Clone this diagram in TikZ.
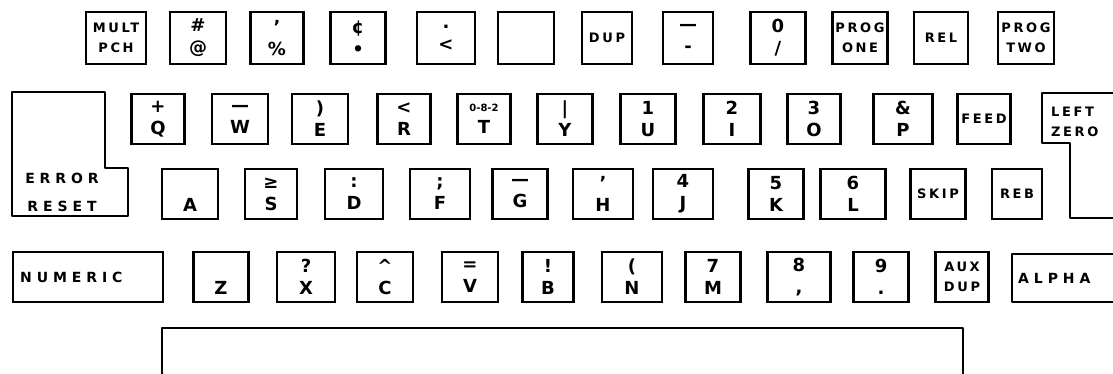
\documentclass[tikz,border=0pt]{standalone}
\usepackage{fontspec}
\setmainfont{DejaVu Sans}
\newfontfamily\handfont[LetterSpace=20]{DejaVu Sans}
\newfontfamily\handwide[LetterSpace=35]{DejaVu Sans}
\usetikzlibrary{positioning}

\tikzset{
	key/.style={draw, line width=2.4pt, inner sep=0pt, align=center, minimum height=50,
		font=\bfseries\fontsize{18}{22}\selectfont},
	word/.style={key, font=\handfont\bfseries\fontsize{13}{20}\selectfont},
	wide/.style={font=\handwide\bfseries\fontsize{14}{16}\selectfont, inner sep=0pt},
	outline/.style={line width=2.4pt, line join=round}
}

\begin{document}
\begin{tikzpicture}[x=1pt, y=-1pt]
		\useasboundingbox (0,0) rectangle (1113,374);
		% top row
		\node[word, minimum width=60, minimum height=52] (multpch) at (116,38) {MULT\\PCH};
		\node[key, minimum width=56, minimum height=52] (atsign) at (198,38) {\#\\@};
		\node[key, minimum width=53, minimum height=52] (percent) at (277,38) {'\\\%};
		\node[key, minimum width=55, minimum height=52] (cent) at (358,38) {¢\\•};
		\node[key, minimum width=58, minimum height=52] (less) at (446,38) {.\\<};
		\node[key, minimum width=56, minimum height=52] (blank) at (526,38) {};
		\node[word, minimum width=50, minimum height=52] (dup) at (607,38) {DUP};
		\node[key, minimum width=50, minimum height=52] (minus) at (688,38) {—\\-};
		\node[key, minimum width=55, minimum height=52] (slash) at (778,38) {0\\/};
		\node[word, minimum width=55, minimum height=52] (progone) at (860,38) {PROG\\ONE};
		\node[word, minimum width=54, minimum height=52] (rel) at (941,38) {REL};
		\node[word, minimum width=56, minimum height=52] (progtwo) at (1026,38) {PROG\\TWO};
		%
		% second row
		\node[key, minimum width=53] (q) at (158,119) {+\\Q};
		\node[key, minimum width=56] (w) at (240,119) {—\\W};
		\node[key, minimum width=56] (e) at (320,119) {)\\E};
		\node[key, minimum width=53] (r) at (404,119) {<\\R};
		\node[key, minimum width=53] (t) at (484,119) {{\fontsize{10}{10}\selectfont 0-8-2}\\T};
		\node[key, minimum width=55] (y) at (565,119) {|\\Y};
		\node[key, minimum width=55] (u) at (648,119) {1\\U};
		\node[key, minimum width=57] (i) at (732,119) {2\\I};
		\node[key, minimum width=53] (o) at (814,119) {3\\O};
		\node[key, minimum width=59] (p) at (903,119) {\&\\P};
		\node[word, minimum width=53] (feed) at (984,119) {FEED};
		%
		% third row
		\node[key, minimum width=56] (a) at (190,194) {\phantom{A}\\A};
		\node[key, minimum width=52] (s) at (271,194) {≥\\S};
		\node[key, minimum width=58] (d) at (354,194) {:\\D};
		\node[key, minimum width=60] (f) at (440,194) {;\\F};
		\node[key, minimum width=55] (g) at (520,194) {—\\G};
		\node[key, minimum width=60] (h) at (603,194) {'\\H};
		\node[key, minimum width=60] (j) at (683,194) {4\\J};
		\node[key, minimum width=55] (k) at (776,194) {5\\K};
		\node[key, minimum width=65] (l) at (853,194) {6\\L};
		\node[word, minimum width=55] (skip) at (938,194) {SKIP};
		\node[word, minimum width=50] (reb) at (1017,194) {REB};
		%
		% fourth row
		\node[key, minimum width=150] (numeric) at (88,277) {};
		\node[wide, anchor=west] (numerictext) at (20,277) {NUMERIC};
		\node[key, minimum width=55] (z) at (221,277) {\phantom{Z}\\Z};
		\node[key, minimum width=58] (x) at (306,277) {?\\X};
		\node[key, minimum width=56] (c) at (385,277) {\textasciicircum\\C};
		\node[key, minimum width=56] (v) at (470,277) {=\\V};
		\node[key, minimum width=51] (b) at (548,277) {!\\B};
		\node[key, minimum width=60] (n) at (632,277) {(\\N};
		\node[key, minimum width=55] (m) at (713,277) {7\\M};
		\node[key, minimum width=63] (comma) at (799,277) {8\\,};
		\node[key, minimum width=55] (period) at (881,277) {9\\.};
		\node[word, minimum width=53] (auxdup) at (962,277) {AUX\\DUP};
		%
		% odd shaped keys
		\draw[outline] (105,92) -- (12,92) -- (12,216) -- (128,216) -- (128,168) -- (105,168) -- cycle;
		\node[wide] (error) at (62,178) {ERROR};
		\node[wide] (reset) at (62,206) {RESET};
		\draw[outline] (1113,93) -- (1042,93) -- (1042,143) -- (1070,143) -- (1070,218) -- (1113,218);
		\node[word, draw=none, anchor=west, minimum height=0pt] (left) at (1050,112) {LEFT};
		\node[word, draw=none, anchor=west, minimum height=0pt] (zero) at (1050,132) {ZERO};
		\draw[outline] (1113,254) -- (1012,254) -- (1012,302) -- (1113,302);
		\node[wide, anchor=west] (alpha) at (1018,278) {ALPHA};
		\draw[outline] (162,374) -- (162,328) -- (963,328) -- (963,374);
	\end{tikzpicture}
\end{document}
